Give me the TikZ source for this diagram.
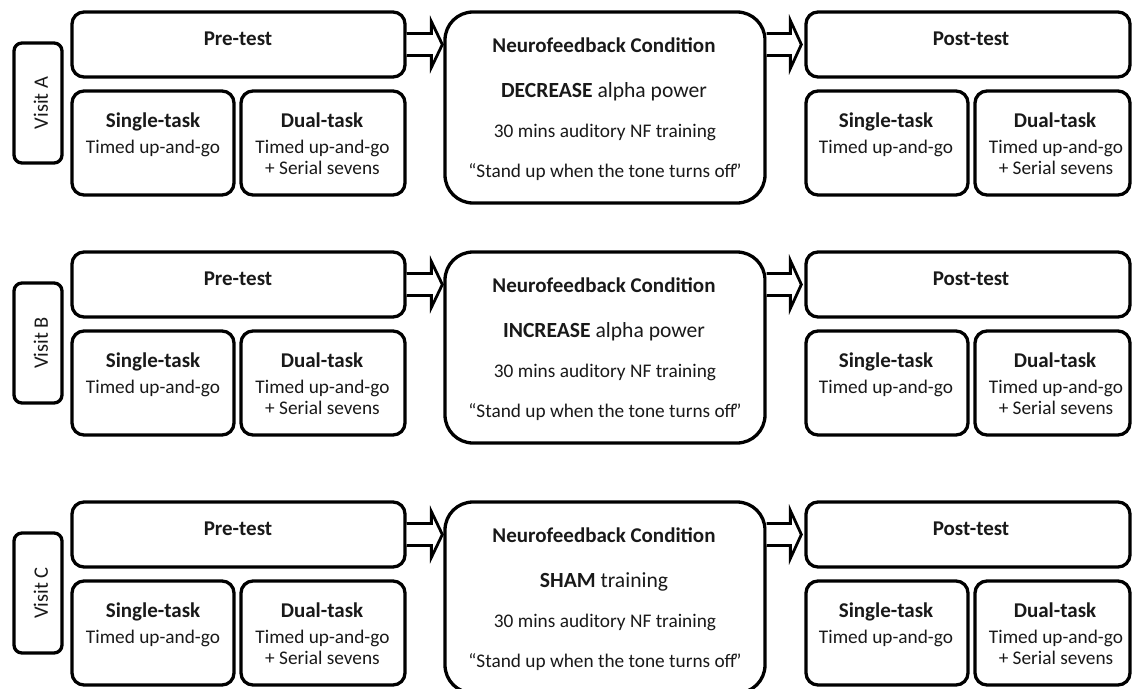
\documentclass[tikz,border=0pt]{standalone}
\usepackage{fontspec}
\setmainfont{Carlito}
\usetikzlibrary{calc}
\newcommand\ttlfont{\fontsize{21}{25}\selectfont\bfseries}
\newcommand\bodyfont{\fontsize{19.3}{23}\selectfont}
\newcommand\condfont{\fontsize{21.6}{26}\selectfont}
\begin{document}
\begin{tikzpicture}[x=1pt,y=-1pt,
  box/.style={draw=black, line width=3.3pt, fill=white, inner sep=0pt, rounded corners=12pt},
  nfbox/.style={box, rounded corners=28pt},
  visbox/.style={box, rounded corners=8pt},
  ttl/.style={anchor=base, font=\ttlfont, text=black!90, inner sep=0pt},
  txt/.style={anchor=base, font=\bodyfont, text=black!90, inner sep=0pt},
  cnd/.style={anchor=base, font=\condfont, text=black!90, inner sep=0pt},
  barrow/.style={draw=black, line width=2.8pt, fill=white, line join=miter, miter limit=10}
]
\useasboundingbox (0,0) rectangle (1132,688);
\foreach \r/\T/\cond in {A/12/{\textbf{DECREASE} alpha power},
                         B/252/{\textbf{INCREASE} alpha power},
                         C/502/{\textbf{SHAM} training}} {
  % boxes
  \node[visbox, minimum width=48pt, minimum height=120pt] (vis\r) at (38, \T+91) {};
  \node[box, minimum width=333pt, minimum height=65pt] (pre\r) at (238.5, \T+32.5) {};
  \node[box, minimum width=162pt, minimum height=104pt] (psin\r) at (153, \T+131) {};
  \node[box, minimum width=164pt, minimum height=104pt] (pdua\r) at (323, \T+131) {};
  \node[nfbox, minimum width=320pt, minimum height=191pt] (nf\r) at (605, \T+95.5) {};
  \node[box, minimum width=324pt, minimum height=65pt] (post\r) at (968, \T+32.5) {};
  \node[box, minimum width=162pt, minimum height=104pt] (qsin\r) at (887, \T+131) {};
  \node[box, minimum width=155pt, minimum height=104pt] (qdua\r) at (1052.5, \T+131) {};
  % texts
  \node[font=\fontsize{20.5}{24}\selectfont, text=black!90, rotate=90, inner sep=0pt] (visT\r) at (41, \T+91) {Visit \r};
  \node[ttl] (preT\r) at (238, \T+33) {Pre-test};
  \node[ttl] (psinT\r) at (153, \T+115) {Single-task};
  \node[txt] (psinL\r) at (153, \T+141) {Timed up-and-go};
  \node[ttl] (pduaT\r) at (322, \T+115) {Dual-task};
  \node[txt] (pduaL\r) at (322.5, \T+141) {Timed up-and-go};
  \node[txt] (pduaM\r) at (322.5, \T+162) {+ Serial sevens};
  \node[ttl] (nfT\r) at (604, \T+40) {Neurofeedback Condition};
  \node[cnd] (nfC\r) at (604, \T+85) {\cond};
  \node[txt] (nfL\r) at (605, \T+125) {30 mins auditory NF training};
  \node[txt] (nfM\r) at (605, \T+165) {“Stand up when the tone turns off\kern-2.5pt”};
  \node[ttl] (postT\r) at (971, \T+33) {Post-test};
  \node[ttl] (qsinT\r) at (886, \T+115) {Single-task};
  \node[txt] (qsinL\r) at (886, \T+141) {Timed up-and-go};
  \node[ttl] (qduaT\r) at (1055, \T+115) {Dual-task};
  \node[txt] (qduaL\r) at (1056, \T+141) {Timed up-and-go};
  \node[txt] (qduaM\r) at (1056, \T+162) {+ Serial sevens};
  % arrows
  \coordinate (tipL\r) at ($(pre\r.east -| nf\r.west)+(-1,0)$);
  \draw[barrow] ($(pre\r.east)+(0,-11)$) -- ($(tipL\r)+(-11,-11)$) -- ($(tipL\r)+(-11,-23)$)
     -- (tipL\r) -- ($(tipL\r)+(-11,23)$) -- ($(tipL\r)+(-11,11)$) -- ($(pre\r.east)+(0,11)$);
  \coordinate (tipR\r) at ($(post\r.west)+(-3,0)$);
  \draw[barrow] ($(nf\r.east |- post\r.west)+(0,-11)$) -- ($(tipR\r)+(-11,-11)$) -- ($(tipR\r)+(-11,-24)$)
     -- (tipR\r) -- ($(tipR\r)+(-11,24)$) -- ($(tipR\r)+(-11,11)$) -- ($(nf\r.east |- post\r.west)+(0,11)$);
}
\end{tikzpicture}
\end{document}
